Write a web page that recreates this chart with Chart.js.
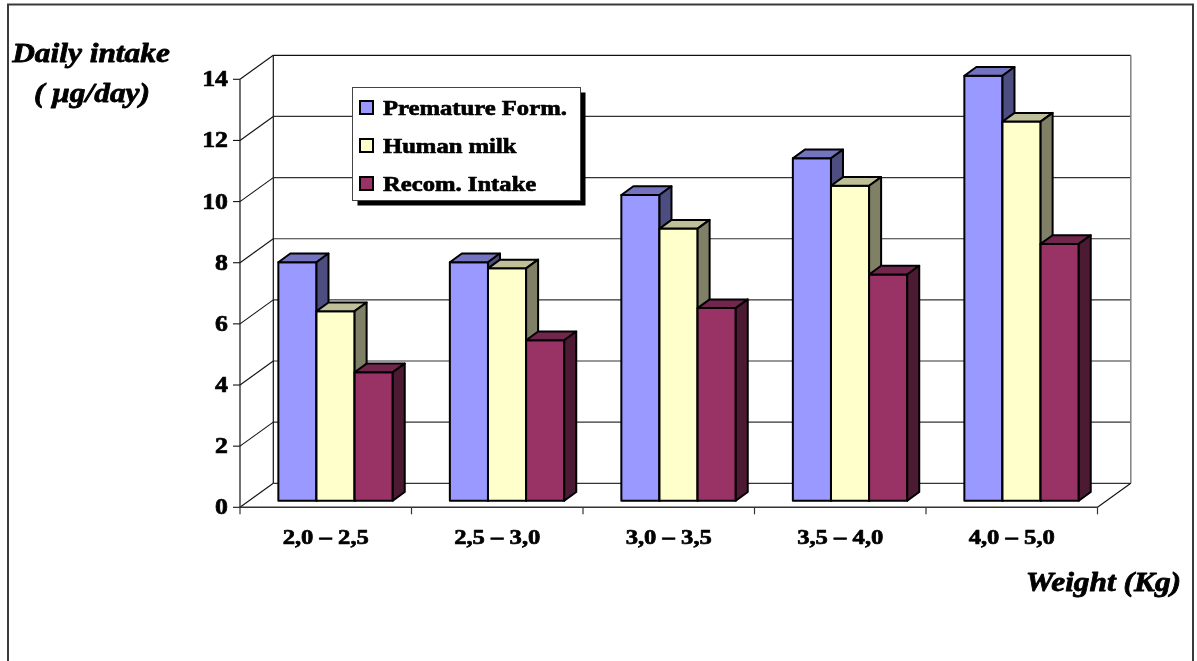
<!DOCTYPE html>
<html>
<head>
<meta charset="utf-8">
<title>Daily intake by weight</title>
<script src="https://cdn.jsdelivr.net/npm/chart.js@4.4.1/dist/chart.umd.min.js"></script>
<style>
  html, body { margin: 0; padding: 0; background: #ffffff; }
  #wrap { width: 1197px; height: 661px; position: relative; }
</style>
</head>
<body>
<div id="wrap"><canvas id="chart" width="1197" height="661"></canvas></div>
<script>
// Weight classes (kg)
const categories = ['2,0 – 2,5', '2,5 – 3,0', '3,0 – 3,5', '3,5 – 4,0', '4,0 – 5,0'];
// Daily intake, µg/day
const prematureForm = [7.8, 7.8, 10.0, 11.2, 13.9];
const humanMilk = [6.2, 7.6, 8.9, 10.3, 12.4];
const recomIntake = [4.2, 5.25, 6.3, 7.4, 8.4];
const seriesNames = ['Premature Form.', 'Human milk', 'Recom. Intake'];
const yTicks = [0, 2, 4, 6, 8, 10, 12, 14];

// face colours: front, top, side
const palette = [
  { front: '#9999FF', top: '#7373C0', side: '#4D4D80' },
  { front: '#FFFFCC', top: '#BFBF99', side: '#808066' },
  { front: '#993366', top: '#73264D', side: '#4D1A33' }
];

// oblique projection offsets relative to the bar plane
const FRONT = { dx: -9.8, dy: 6.6 };
const BACK = { dx: 23.5, dy: -17.4 };
const DEPTH = { dx: 12, dy: -8.7 };
const STRETCH = 1.12;
const SERIF = '"Liberation Serif", "Times New Roman", serif';

// heavy serif text, slightly widened
function stretchedText(ctx, str, x, y, align, font, weight) {
  ctx.save();
  ctx.font = font;
  ctx.fillStyle = '#000';
  ctx.strokeStyle = '#000';
  ctx.lineWidth = weight === undefined ? 0.7 : weight;
  ctx.lineJoin = 'round';
  ctx.textBaseline = 'middle';
  ctx.textAlign = align;
  ctx.translate(x, y);
  ctx.scale(STRETCH, 1);
  ctx.fillText(str, 0, 0);
  if (ctx.lineWidth > 0) ctx.strokeText(str, 0, 0);
  ctx.restore();
}

function line(ctx, x1, y1, x2, y2, color, w) {
  ctx.save();
  ctx.strokeStyle = color;
  ctx.lineWidth = w;
  ctx.beginPath();
  ctx.moveTo(x1, y1);
  ctx.lineTo(x2, y2);
  ctx.stroke();
  ctx.restore();
}

function poly(ctx, pts, fill) {
  ctx.beginPath();
  ctx.moveTo(pts[0][0], pts[0][1]);
  for (let i = 1; i < pts.length; i++) ctx.lineTo(pts[i][0], pts[i][1]);
  ctx.closePath();
  ctx.fillStyle = fill;
  ctx.fill();
  ctx.stroke();
}

const boxPlugin = {
  id: 'box3d',
  beforeDraw(chart) {
    const ctx = chart.ctx;
    ctx.save();
    ctx.fillStyle = '#fff';
    ctx.fillRect(0, 0, chart.width, chart.height);
    // outer frame (open at the bottom)
    ctx.strokeStyle = '#3a3a3a';
    ctx.lineWidth = 2;
    ctx.beginPath();
    ctx.moveTo(8, 661);
    ctx.lineTo(8, 4.5);
    ctx.lineTo(1193, 4.5);
    ctx.lineTo(1193, 661);
    ctx.stroke();
    ctx.restore();
  },
  beforeDatasetsDraw(chart) {
    const ctx = chart.ctx;
    const ys = chart.scales.y;
    const xs = chart.scales.x;
    const left = chart.chartArea.left, right = chart.chartArea.right;
    const y0 = ys.getPixelForValue(0);
    const yTop = ys.getPixelForValue(yTicks[yTicks.length - 1]);

    // back wall gridlines
    yTicks.forEach((v, i) => {
      const y = ys.getPixelForValue(v) + BACK.dy;
      const col = (i === yTicks.length - 1) ? '#111' : '#333';
      line(ctx, left + BACK.dx, y, right + BACK.dx, y, col, 1.2);
    });
    // back wall edges
    line(ctx, left + BACK.dx, y0 + BACK.dy, left + BACK.dx, yTop + BACK.dy, '#111', 1.2);
    line(ctx, right + BACK.dx, y0 + BACK.dy, right + BACK.dx, yTop + BACK.dy, '#808080', 1.5);

    // side wall diagonals and front value axis
    const fx = left + FRONT.dx;
    yTicks.forEach(v => {
      const y = ys.getPixelForValue(v);
      line(ctx, fx, y + FRONT.dy, left + BACK.dx, y + BACK.dy, '#111', 1.1);
      line(ctx, fx - 7, y + FRONT.dy, fx, y + FRONT.dy, '#111', 1.1);
      stretchedText(ctx, String(v), fx - 12, y + FRONT.dy + 1, 'right', 'bold 23px ' + SERIF);
    });
    line(ctx, fx, y0 + FRONT.dy, fx, yTop + FRONT.dy, '#111', 1.2);

    // floor
    line(ctx, fx, y0 + FRONT.dy, right + FRONT.dx, y0 + FRONT.dy, '#333', 1.5);
    line(ctx, right + FRONT.dx, y0 + FRONT.dy, right + BACK.dx, y0 + BACK.dy, '#111', 1.1);

    // category tick marks and labels
    const n = categories.length;
    const step = (right - left) / n;
    for (let i = 0; i <= n; i++) {
      const x = left + i * step + FRONT.dx;
      line(ctx, x, y0 + FRONT.dy, x, y0 + FRONT.dy + 7, '#333', 1.2);
    }
    categories.forEach((c, i) => {
      const x = xs.getPixelForValue(i) + FRONT.dx;
      stretchedText(ctx, c, x, y0 + FRONT.dy + 31, 'center', 'bold 22px ' + SERIF);
    });
  },
  afterDatasetsDraw(chart) {
    const ctx = chart.ctx;
    ctx.save();
    ctx.strokeStyle = '#000';
    ctx.lineWidth = 2;
    ctx.lineJoin = 'round';
    const metas = chart.data.datasets.map((d, i) => chart.getDatasetMeta(i));
    categories.forEach((c, j) => {
      metas.forEach((meta, k) => {
        const bar = meta.data[j];
        const p = bar.getProps(['x', 'y', 'base', 'width'], true);
        const l = p.x - p.width / 2, r = p.x + p.width / 2;
        const t = p.y, b = p.base;
        const col = palette[k];
        poly(ctx, [[l, t], [r, t], [r, b], [l, b]], col.front);
        poly(ctx, [[l, t], [l + DEPTH.dx, t + DEPTH.dy], [r + DEPTH.dx, t + DEPTH.dy], [r, t]], col.top);
        poly(ctx, [[r, t], [r + DEPTH.dx, t + DEPTH.dy], [r + DEPTH.dx, b + DEPTH.dy], [r, b]], col.side);
      });
    });
    ctx.restore();
  },
  afterDraw(chart) {
    const ctx = chart.ctx;
    // legend box with drop shadow
    const bx = 352.5, by = 87.5, bw = 228, bh = 113;
    ctx.save();
    ctx.fillStyle = '#000';
    ctx.fillRect(bx + 5, by + 5, bw, bh);
    ctx.fillStyle = '#fff';
    ctx.fillRect(bx, by, bw, bh);
    ctx.strokeStyle = '#444';
    ctx.lineWidth = 1;
    ctx.strokeRect(bx, by, bw, bh);
    chart.data.datasets.forEach((ds, k) => {
      const cy = 108 + k * 38;
      ctx.fillStyle = palette[k].front;
      ctx.strokeStyle = '#000';
      ctx.lineWidth = 2;
      ctx.fillRect(360, cy - 7, 13, 13);
      ctx.strokeRect(360, cy - 7, 13, 13);
      stretchedText(ctx, ds.label, 383, cy + 1, 'left', 'bold 22px ' + SERIF);
    });
    ctx.restore();

    // axis titles
    stretchedText(ctx, 'Daily intake', 91, 55, 'center', 'bold italic 28px ' + SERIF, 0.8);
    stretchedText(ctx, '( μg/day)', 92, 95, 'center', 'bold italic 28px ' + SERIF, 0.8);
    stretchedText(ctx, 'Weight (Kg)', 1181, 584, 'right', 'bold italic 28px ' + SERIF, 0.8);
  }
};

new Chart(document.getElementById('chart'), {
  type: 'bar',
  data: {
    labels: categories,
    datasets: [
      { label: seriesNames[0], data: prematureForm, backgroundColor: palette[0].front },
      { label: seriesNames[1], data: humanMilk, backgroundColor: palette[1].front },
      { label: seriesNames[2], data: recomIntake, backgroundColor: palette[2].front }
    ]
  },
  options: {
    responsive: false,
    devicePixelRatio: 1,
    animation: false,
    layout: { padding: { left: 249.8, right: 89.7, top: 72.7, bottom: 160.3 } },
    datasets: { bar: { categoryPercentage: 0.667, barPercentage: 1.0, borderWidth: 0 } },
    scales: {
      x: { display: false },
      y: { display: false, min: 0, max: 14, ticks: { stepSize: 2 } }
    },
    plugins: { legend: { display: false }, tooltip: { enabled: false } }
  },
  plugins: [boxPlugin]
});
</script>
</body>
</html>
